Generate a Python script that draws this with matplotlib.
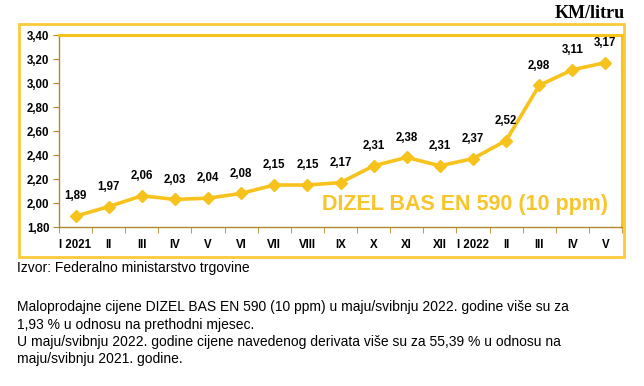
import matplotlib
matplotlib.use("Agg")
import matplotlib.pyplot as plt
from matplotlib.patches import Rectangle

categories = ["I 2021", "II", "III", "IV", "V", "VI", "VII", "VIII", "IX", "X",
              "XI", "XII", "I 2022", "II", "III", "IV", "V"]
prices = [1.89, 1.97, 2.06, 2.03, 2.04, 2.08, 2.15, 2.15, 2.17, 2.31,
          2.38, 2.31, 2.37, 2.52, 2.98, 3.11, 3.17]
yticks = [1.80, 2.00, 2.20, 2.40, 2.60, 2.80, 3.00, 3.20, 3.40]

W, H = 644, 386
GOLD = "#F8C21C"
AXC = "#B08A2A"
plt.rcParams['font.family'] = ['Liberation Sans', 'DejaVu Sans']

fig = plt.figure(figsize=(W/100, H/100), dpi=100)

def fx(x): return x / W
def fy(y): return 1 - y / H

# outer frame
fig.patches.append(Rectangle((fx(19), fy(257)), fx(624) - fx(19), fy(24) - fy(257),
                             transform=fig.transFigure, fill=False, edgecolor="#FBCB3A",
                             linewidth=2.0))

L, R, T, B = 59, 622, 35, 227
ax = fig.add_axes([fx(L), fy(B), fx(R) - fx(L), fy(T) - fy(B)])
x = list(range(len(prices)))
ax.plot(x, prices, color=GOLD, linewidth=2.6, marker="D", markersize=6.5,
        markerfacecolor=GOLD, markeredgecolor=GOLD, zorder=3)
for xi, v in zip(x, prices):
    ax.annotate(f"{v:.2f}".replace(".", ","), (xi, v), xytext=(0, 10),
                textcoords="offset points", ha="center", va="bottom",
                fontsize=8.3, fontweight="bold", color="black")

ax.set_xlim(-0.5, len(prices) - 0.5)
ax.set_ylim(1.80, 3.40)
ax.set_yticks(yticks)
ax.set_yticklabels([f"{t:.2f}".replace(".", ",") for t in yticks],
                   fontsize=8.3, fontweight="bold")
ax.set_xticks(x)
ax.set_xticklabels(categories, fontsize=8.3, fontweight="bold")
ax.set_xticks([i - 0.5 for i in range(len(prices) + 1)], minor=True)
ax.tick_params(axis="x", which="major", length=0, pad=9)
ax.tick_params(axis="x", which="minor", length=4, color=AXC, direction="out")
ax.tick_params(axis="y", length=4, color=AXC, pad=3)
for s in ["left", "bottom"]:
    ax.spines[s].set_color(AXC)
    ax.spines[s].set_linewidth(1.0)
for s in ["top", "right"]:
    ax.spines[s].set_color(GOLD)
    ax.spines[s].set_linewidth(2.2)

ax.text(0.975, 0.06, "DIZEL BAS EN 590 (10 ppm)", transform=ax.transAxes,
        ha="right", va="bottom", fontsize=15.5, fontweight="bold", color="#F8C52A")

fig.text(fx(625), fy(14), "KM/litru", ha="right", va="center",
         fontsize=13, fontweight="bold", family=["Liberation Serif", "DejaVu Serif"])

fig.text(fx(17), fy(268), "Izvor: Federalno ministarstvo trgovine", ha="left",
         va="center", fontsize=10)
lines = [
    "Maloprodajne cijene DIZEL BAS EN 590 (10 ppm) u maju/svibnju 2022. godine više su za",
    "1,93 % u odnosu na prethodni mjesec.",
    "U maju/svibnju 2022. godine cijene navedenog derivata više su za 55,39 % u odnosu na",
    "maju/svibnju 2021. godine.",
]
for i, ln in enumerate(lines):
    fig.text(fx(17), fy(307 + i * 17.5), ln, ha="left", va="center", fontsize=10)

fig.savefig("out.png", dpi=100)
